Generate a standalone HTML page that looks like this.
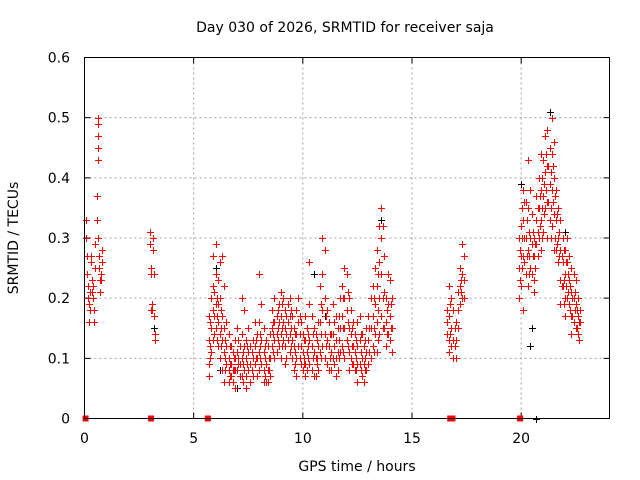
<!DOCTYPE html>
<html><head><meta charset="utf-8"><style>
html,body{margin:0;padding:0;background:#fff}
svg{display:block;font-family:"DejaVu Sans","Liberation Sans",sans-serif}
</style></head><body>
<svg id="chart" width="640" height="480" viewBox="0 0 640 480">
<rect width="640" height="480" fill="#fff"/>
<g id="grid"></g>
<g id="axes"></g>
<g id="marks"></g>
<rect x="84.5" y="57.5" width="525" height="361" fill="none" stroke="#000"/>
<text x="345" y="32" font-size="14" text-anchor="middle">Day 030 of 2026, SRMTID for receiver saja</text>
<text x="357" y="471" font-size="14" text-anchor="middle">GPS time / hours</text>
<text x="0" y="0" font-size="14" text-anchor="middle" transform="translate(18,238) rotate(-90)">SRMTID / TECUs</text>
</svg>
<script>
const xTicks=[0,5,10,15,20];
const yTicks=[0,0.1,0.2,0.3,0.4,0.5,0.6];
const yTickLabels=["0","0.1","0.2","0.3","0.4","0.5","0.6"];
// rows: [time, value, value, ...]
const redRows=[
[0.05,.33,.3],[0.1,.27,.24],[0.15,.22,.2],[0.2,.19,.16],[0.25,.18,.21],[0.3,.26,.27],[0.35,.23,.21],[0.4,.2,.22],[0.45,.18,.16],[0.5,.25,.29],[0.55,.33,.37],[0.6,.5,.43,.3],[0.63,.49,.47,.45],[0.68,.27,.25],[0.72,.23,.21],[0.76,.24,.23],[0.8,.26,.28],
[3.0,.31,.29],[3.05,.25,.24,.18],[3.1,.18,.19],[3.15,.3,.28],[3.2,.24,.17],[3.25,.13,.14],
[5.7,.17,.13,.09,.07],[5.8,.2,.15,.11],[5.9,.27,.22,.18,.13],[6.0,.29,.24,.19,.15],[6.1,.23,.19,.16,.12],[6.2,.26,.2,.14,.1],[6.3,.27,.17,.13,.08],[6.4,.22,.15,.11,.06],[6.5,.16,.12,.09],[6.6,.14,.1,.08,.06],[6.7,.12,.09,.07],[6.8,.11,.08,.06],[6.9,.13,.1,.08,.05],[7.0,.15,.11,.08],[7.1,.12,.09,.07],[7.2,.2,.14,.1,.07],[7.3,.18,.12,.08],[7.4,.13,.1,.07,.05],[7.5,.15,.11,.08],[7.6,.12,.09,.06],[7.7,.13,.1,.07],[7.8,.16,.12,.09],[7.9,.14,.1,.07],[8.0,.24,.16,.11,.08],[8.1,.19,.13,.09],[8.2,.15,.11,.08,.06],[8.3,.13,.09,.06],[8.4,.12,.08,.06],[8.5,.14,.1,.07],[8.6,.18,.15,.12],[8.7,.2,.16,.13,.1],[8.8,.17,.14,.11],[8.9,.19,.16,.12],[9.0,.21,.17,.14,.1],[9.1,.2,.16,.13],[9.2,.18,.15,.12,.09],[9.3,.19,.16,.13],[9.4,.2,.17,.14,.11],[9.5,.17,.13,.1],[9.6,.15,.12,.08],[9.7,.18,.14,.1,.07],[9.8,.2,.16,.12],[9.9,.16,.12,.09],[10.0,.14,.11,.08],[10.1,.17,.13,.09,.07],[10.2,.15,.11,.08],[10.3,.26,.19,.13,.09],[10.4,.17,.12,.08],[10.5,.15,.11,.07],[10.6,.14,.1,.07],[10.7,.16,.12,.08],[10.8,.22,.16,.11],[10.9,.3,.24,.18,.12],[11.0,.28,.2,.14,.1],[11.1,.18,.13,.09],[11.2,.16,.12,.08],[11.3,.14,.11,.08],[11.4,.19,.14,.1],[11.5,.17,.13,.1,.07],[11.6,.15,.11,.08],[11.7,.2,.15,.11],[11.8,.22,.17,.12],[11.9,.25,.2,.15,.1],[12.0,.24,.18,.13],[12.1,.2,.15,.11,.08],[12.2,.18,.14,.1],[12.3,.16,.12,.09],[12.4,.14,.11,.08],[12.5,.16,.12,.09,.06],[12.6,.17,.13,.09],[12.7,.14,.1,.07],[12.8,.12,.09,.06],[12.9,.15,.11,.08],[13.0,.17,.13,.09],[13.1,.2,.15,.1],[13.2,.22,.17,.12],[13.3,.25,.19,.14],[13.4,.28,.22,.16,.11],[13.5,.32,.26,.2,.14],[13.6,.35,.3,.24,.17],[13.7,.27,.21,.15],[13.8,.2,.16,.12],[13.9,.24,.19,.14],[14.0,.23,.17,.13],[14.1,.2,.15,.11],
[5.75,.16,.12,.1],[5.95,.21,.17,.14],[6.05,.2,.17,.13],[6.25,.18,.15,.12],[6.45,.13,.1,.08],[6.65,.12,.09,.07],[6.85,.1,.08],[7.05,.13,.1,.09],[7.25,.11,.09,.06],[7.45,.12,.09],[7.65,.11,.08],[7.85,.13,.1],[8.05,.14,.12,.1],[8.25,.12,.1,.07],[8.45,.1,.08],[8.65,.16,.14,.11],[8.85,.18,.15,.13],[9.05,.19,.15,.12],[9.25,.17,.14,.1],[9.45,.18,.15,.12],[9.65,.14,.11,.09],[9.85,.17,.14,.1],[10.05,.13,.1,.09],[10.25,.14,.12,.1],[10.45,.14,.1],[10.65,.13,.1,.09],[10.85,.19,.14,.1],[11.05,.17,.12],[11.25,.14,.1],[11.45,.16,.12,.09],[11.65,.17,.13,.1],[11.85,.2,.15,.11],[12.05,.21,.16,.12],[12.25,.15,.12,.09],[12.45,.13,.1,.08],[12.65,.14,.11,.08],[12.85,.13,.1,.08],[13.05,.15,.11],[13.25,.2,.15,.11],[13.45,.24,.18,.13],[13.65,.32,.2,.15],[13.85,.18,.14],[14.05,.19,.15],
[16.6,.18,.16,.14],[16.7,.22,.17,.13,.11],[16.8,.2,.15,.12],[16.9,.18,.13,.1],[17.0,.16,.13,.1],[17.1,.21,.18,.15],[17.2,.25,.22,.19],[17.3,.29,.24,.2],[17.4,.27,.23,.2],[16.75,.19,.14],[16.95,.15,.12],[17.25,.23,.21],
[19.9,.3,.25,.2],[20.0,.32,.27,.22],[20.1,.38,.33,.27,.18],[20.2,.36,.3,.24],[20.3,.43,.35,.28,.22],[20.4,.38,.3,.25],[20.5,.34,.29,.24],[20.6,.3,.27,.23,.21],[20.7,.37,.33,.29],[20.8,.4,.35,.3],[20.9,.44,.38,.33,.28],[21.0,.43,.37,.31],[21.1,.47,.41,.35],[21.2,.48,.42,.36,.3],[21.3,.45,.39,.33],[21.4,.5,.44,.38,.32],[21.5,.46,.4,.34,.28],[21.6,.38,.33,.28],[21.7,.35,.3,.26],[21.8,.33,.28,.23,.19],[21.9,.3,.26,.22],[22.0,.28,.24,.2,.17],[22.1,.3,.26,.2],[22.2,.27,.23,.19],[22.3,.25,.21,.17,.14],[22.4,.24,.2,.16],[22.5,.23,.19,.15],[22.6,.2,.17,.14],[22.7,.18,.16],
[19.95,.28,.23],[20.05,.35,.3,.25],[20.15,.36,.3,.26],[20.25,.33,.27],[20.35,.31,.27,.24],[20.55,.31,.27],[20.65,.29,.25],[20.75,.35,.31,.27],[20.85,.37,.32],[20.95,.4,.35,.3],[21.05,.39,.34],[21.15,.44,.38],[21.25,.42,.36],[21.35,.41,.35,.3],[21.45,.42,.36],[21.55,.37,.3],[21.65,.34,.29],[21.75,.31,.27],[21.85,.27,.22],[21.95,.28,.23,.19],[22.05,.26,.22],[22.15,.24,.21],[22.25,.22,.18],[22.35,.2,.17],[22.45,.21,.18],[22.55,.18,.15],[22.65,.16,.13]
];
const redZeroTimes=[0.05,3.05,5.65,16.75,16.8,16.85,19.95];
const blackPoints=[[0.6,0.43],[3.2,0.15],[6.0,0.25],[6.2,0.08],[7.0,0.05],[10.5,0.24],[11.0,0.17],[13.6,0.33],[20.0,0.39],[20.4,0.12],[20.5,0.15],[21.3,0.51],[21.5,0.4],[22.0,0.31],[20.7,0.0]];

const X0=84.5,X1=608.5,Y0=418.5,Y1=57.5;
const xs=t=>X0+t/24*(X1-X0);
const ys=v=>Y0-v/0.6*(Y0-Y1);
const NS="http://www.w3.org/2000/svg";
function mk(tag,attrs,parent){const e=document.createElementNS(NS,tag);for(const k in attrs)e.setAttribute(k,attrs[k]);parent.appendChild(e);return e;}
const grid=document.getElementById('grid'),axes=document.getElementById('axes'),marks=document.getElementById('marks');
xTicks.forEach(t=>{const x=xs(t);
 if(t>0){const g=mk('line',{x1:x,x2:x,y1:Y1,y2:Y0,stroke:'#a0a0a0','stroke-dasharray':'2,3'},grid);
 
 }
 const tk=mk('path',{d:`M${x},${Y0}v-6M${x},${Y1}v6`,stroke:'#000'},axes);
 
 
 const lb=mk('text',{x:x,y:443,'font-size':14,'text-anchor':'middle'},axes);lb.textContent=String(t);
 
 
});
yTicks.forEach((v,i)=>{const y=ys(v);
 if(v>0&&v<0.6){const g=mk('line',{x1:X0,x2:X1+1,y1:y,y2:y,stroke:'#a0a0a0','stroke-dasharray':'2,3'},grid);
 
 }
 const tk=mk('path',{d:`M${X0},${y}h6M${X1+1},${y}h-6`,stroke:'#000'},axes);
 
 
 const lb=mk('text',{x:70,y:y+5,'font-size':14,'text-anchor':'end'},axes);lb.textContent=yTickLabels[i];
 
 
});
function plus(t,v,color){const x=Math.round(xs(t))+0.5,y=Math.round(ys(v))+0.5;
 const p=mk('path',{d:`M${x-3.5},${y}h7M${x},${y-3.5}v7`,stroke:color,'stroke-width':1},marks);
 
 }
blackPoints.forEach(p=>plus(p[0],p[1],'#000'));
redRows.forEach(r=>{for(let i=1;i<r.length;i++)plus(r[0],r[i],'#f00');});
redZeroTimes.forEach(t=>{const x=xs(t);
 const s=mk('rect',{x:x-3,y:Y0-3,width:6,height:6,fill:'#f00'},marks);
 
 });
</script>
</body></html>
